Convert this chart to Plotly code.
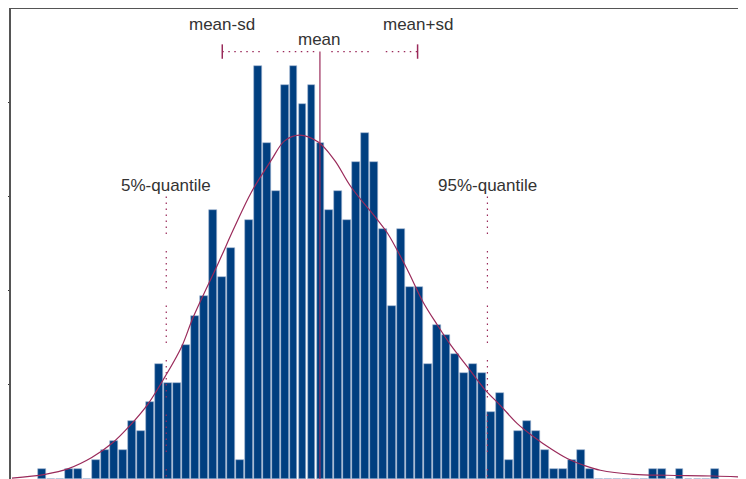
import plotly.graph_objects as go

# ---- data ----
bin_centers = list(range(76))
counts = [1, 0, 0, 1, 1, 0, 2, 3, 4, 3,
          6, 5, 8, 12, 10, 10, 14, 17, 19, 28,
          21, 24, 2, 27, 43, 35, 30, 41, 43, 39,
          41, 35, 28, 30, 27, 33, 36, 33, 26, 18,
          26, 20, 20, 12, 16, 15, 13, 11, 12, 11,
          7, 9, 2, 5, 6, 5, 3, 1, 1, 2,
          3, 1, 0, 0, 0, 0, 0, 0, 1, 1,
          0, 1, 0, 0, 0, 1]

curve_x = [-3.37, 0.33, 2.93, 5.52, 7.74, 9.97, 11.82, 13.67, 15.52, 16.82,
           19.6, 21.44, 23.3, 25.52, 27.0, 28.67, 30.71, 32.56, 34.41, 37.38,
           38.49, 40.71, 42.41, 44.04, 45.52, 47.38, 49.22, 51.08, 52.93, 54.78,
           56.63, 58.49, 60.33, 62.19, 65.89, 69.6, 74.74, 79.3]
curve_y = [0.10, 0.49, 1.08, 2.23, 3.69, 5.77, 7.85, 10.63, 13.75, 16.84,
           22.44, 26.25, 29.86, 33.2, 35.2, 35.8, 35.1, 33.2, 30.4, 26.95,
           25.56, 21.74, 18.46, 16.01, 13.93, 11.67, 9.42, 7.62, 5.77, 4.38,
           3.17, 2.13, 1.43, 0.91, 0.49, 0.39, 0.31, 0.15]

mean_val = 30.94
sd_val = 10.88
q05 = 13.82
q95 = 49.6
stat_level = 44.5      # height of the mean / sd marker line
quant_top = 29.4       # top of quantile markers

BAR_COLOR = "#003f80"
LINE_COLOR = "#9a2a5a"
TEXT_COLOR = "#333333"
DOTS = "1.5px,4.5px,1.5px,4.5px,1.5px,4.5px,1.5px,4.5px,1.5px,4.5px,1.5px,4.5px,1.5px,17px"

fig = go.Figure()
fig.add_trace(go.Bar(x=bin_centers, y=counts, marker=dict(color=BAR_COLOR,
                     line=dict(color="#9fb6d2", width=0.6)), width=0.88))
fig.add_trace(go.Scatter(x=curve_x, y=curve_y, mode="lines", line_shape="spline",
                         line=dict(color=LINE_COLOR, width=1.2)))
# mean line
fig.add_trace(go.Scatter(x=[mean_val, mean_val], y=[0, stat_level], mode="lines",
                         line=dict(color=LINE_COLOR, width=1.2)))
# mean +- sd dotted line and end ticks
fig.add_trace(go.Scatter(x=[mean_val - sd_val, mean_val + sd_val], y=[stat_level, stat_level],
                         mode="lines", line=dict(color=LINE_COLOR, width=1.2, dash=DOTS)))
for xv in (mean_val - sd_val, mean_val + sd_val):
    fig.add_trace(go.Scatter(x=[xv, xv], y=[stat_level - 0.75, stat_level + 0.75], mode="lines",
                             line=dict(color=LINE_COLOR, width=1.5)))
# quantile lines
for xv in (q05, q95):
    fig.add_trace(go.Scatter(x=[xv, xv], y=[quant_top, 0], mode="lines",
                             line=dict(color=LINE_COLOR, width=1.2, dash=DOTS)))

labels = [("mean-sd", mean_val - sd_val, 47.3), ("mean", mean_val, 45.8),
          ("mean+sd", mean_val + sd_val, 47.3), ("5%-quantile", q05, 30.6),
          ("95%-quantile", q95, 30.6)]
for txt, xv, yv in labels:
    fig.add_annotation(x=xv, y=yv, text=txt, showarrow=False, xanchor="center", yanchor="middle",
                       font=dict(family="Liberation Sans, Arial", size=17, color=TEXT_COLOR))

fig.update_layout(
    width=746, height=479,
    margin=dict(l=1, r=0, t=1, b=8.3),
    paper_bgcolor="white", plot_bgcolor="white",
    showlegend=False, bargap=0,
    xaxis=dict(range=[-3.478, 79.3], side="top", showline=True, linecolor="#555555",
               linewidth=2, showgrid=False, zeroline=False, ticks="", showticklabels=False),
    yaxis=dict(range=[0, 48.93], showline=True, linecolor="#555555", linewidth=2,
               showgrid=False, zeroline=False, ticks="outside", ticklen=3, tickcolor="#333",
               tick0=0, dtick=9.79, showticklabels=False),
)
fig.write_html("out.html")
